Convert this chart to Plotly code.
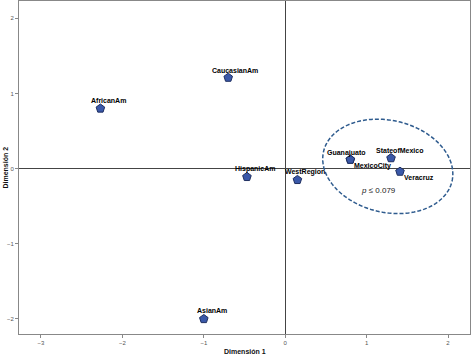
import numpy as np
import plotly.graph_objects as go

labels = ["AfricanAm", "CaucasianAm", "HispanicAm", "WestRegion", "AsianAm",
          "Guanajuato", "MexicoCity", "StateofMexico", "Veracruz"]
dim1 = [-2.27, -0.70, -0.47, 0.15, -1.00, 0.80, 0.80, 1.30, 1.41]
dim2 = [0.80, 1.21, -0.11, -0.15, -2.00, 0.12, 0.12, 0.14, -0.04]
x_ticks = [-3, -2, -1, 0, 1, 2]
y_ticks = [-2, -1, 0, 1, 2]
p_text = "<i>p</i> ≤ 0.079"
x_title = "<b>Dimensión 1</b>"
y_title = "<b>Dimensión 2</b>"

# label offsets in pixels (style only)
label_dx = [8, 7, 8, 8, 8, -4, 22, 8, 19]
label_dy = [8, 7, 8, 8, 8, 7, -6, 7.5, -6]

xr = [-3.27, 2.27]
yr = [-2.2, 2.23]

fig = go.Figure()
fig.add_trace(go.Scatter(
    x=dim1, y=dim2, mode="markers",
    marker=dict(symbol="pentagon", size=9, color="#3A58A8",
                line=dict(color="#1F2F60", width=1)),
    hoverinfo="skip", cliponaxis=False,
))

for lab, x, y, dx, dy in zip(labels, dim1, dim2, label_dx, label_dy):
    fig.add_annotation(x=x, y=y, text=f"<b>{lab}</b>", showarrow=False,
                       xshift=dx, yshift=dy, xanchor="center", yanchor="middle",
                       font=dict(family="Liberation Sans", size=7, color="#000000"))

# dashed ellipse (tilted), built in pixel space then mapped to data
px_per_x = 81.5
px_per_y = 75.2
cx, cy = 1.26, 0.03
a, b, ang = 66.0, 46.0, np.deg2rad(-13)
t = np.linspace(0, 2 * np.pi, 140)
ex = a * np.cos(t) * np.cos(ang) - b * np.sin(t) * np.sin(ang)
ey = a * np.cos(t) * np.sin(ang) + b * np.sin(t) * np.cos(ang)
xs = cx + ex / px_per_x
ys = cy + ey / px_per_y
path = "M " + " L ".join(f"{x:.4f},{y:.4f}" for x, y in zip(xs, ys)) + " Z"
fig.add_shape(type="path", path=path, xref="x", yref="y",
              line=dict(color="#2E5B8E", width=1.5, dash="4px,2px"))

fig.add_annotation(x=1.14, y=-0.29, text=p_text, showarrow=False,
                   font=dict(family="Liberation Sans", size=8, color="#222222"))

fig.add_annotation(x=0.5, y=-0.054, xref="paper", yref="paper", text=x_title,
                   showarrow=False, xanchor="center", yanchor="middle",
                   font=dict(family="Liberation Sans", size=7, color="#111111"))
fig.add_annotation(x=-0.031, y=0.5, xref="paper", yref="paper", text=y_title,
                   showarrow=False, xanchor="center", yanchor="middle", textangle=-90,
                   font=dict(family="Liberation Sans", size=7, color="#111111"))

fig.update_layout(
    width=472, height=356,
    margin=dict(l=19, r=2, t=1, b=22, autoexpand=False),
    plot_bgcolor="white", paper_bgcolor="white",
    showlegend=False,
    xaxis=dict(range=xr, tickvals=x_ticks, showgrid=False, zeroline=True,
               automargin=False,
               zerolinecolor="#444444", zerolinewidth=1,
               showline=True, linecolor="#888888", linewidth=1, mirror=True,
               ticks="outside", ticklen=3, tickcolor="#888888",
               tickfont=dict(family="Liberation Sans", size=6, color="#555555")),
    yaxis=dict(range=yr, tickvals=y_ticks, showgrid=False, zeroline=True,
               automargin=False,
               zerolinecolor="#444444", zerolinewidth=1,
               showline=True, linecolor="#888888", linewidth=1, mirror=True,
               ticks="outside", ticklen=3, tickcolor="#888888",
               tickfont=dict(family="Liberation Sans", size=6, color="#555555")),
)

fig.write_html(
    "out.html",
    config={"responsive": False, "displayModeBar": False},
    post_script="document.body.style.margin='0';document.body.style.overflow='hidden';",
)
